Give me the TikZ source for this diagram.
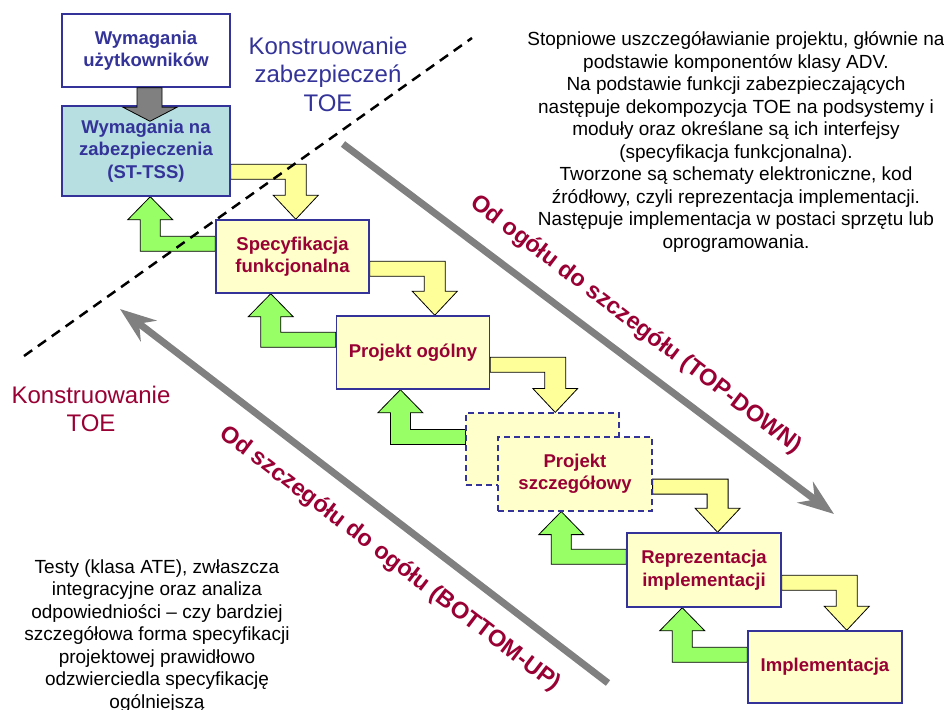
\documentclass[tikz,border=0pt]{standalone}
\usepackage{fontspec}
\setmainfont{Liberation Sans}
\usepackage{tikz}
\usetikzlibrary{arrows.meta, calc, backgrounds}
\definecolor{tblue}{HTML}{333399}
\definecolor{tred}{HTML}{990033}
\definecolor{boxfill}{HTML}{FFFFCC}
\definecolor{cyanfill}{HTML}{B7DEE0}
\definecolor{yellowarr}{HTML}{FFFF99}
\definecolor{greenarr}{HTML}{99FF66}
\definecolor{grayarr}{HTML}{808080}
\tikzset{
  block/.style={rectangle, draw=tblue, line width=1.5pt, fill=boxfill,
                align=center, minimum width=153pt, minimum height=73pt,
                inner sep=2pt, text=tred,
                font=\fontsize{18.5}{22.5}\selectfont\bfseries},
  blockwhite/.style={block, fill=white, text=tblue, minimum width=168pt},
  blockcyan/.style={block, fill=cyanfill, text=tblue, minimum width=168pt,
                    minimum height=90pt},
  blockdash/.style={block, line width=1.2pt, dash pattern=on 6pt off 4pt},
  downarrow/.style={fill=yellowarr, draw=black, line width=0.8pt},
  uparrow/.style={fill=greenarr, draw=black, line width=0.8pt},
  bigarrow/.style={draw=grayarr, line width=7pt,
                   -{Stealth[length=36pt, width=26pt, inset=12pt]}},
  note/.style={align=center, font=\fontsize{19}{22.5}\selectfont},
  phase/.style={align=center, font=\fontsize{24}{28.5}\selectfont},
  slant/.style={text=tred, rotate=-37.3,
                font=\fontsize{23.5}{28}\selectfont\bfseries},
}
% yellow bent arrow: right out of #1, down onto #2
\newcommand{\stepdown}[2]{%
  \filldraw[downarrow] let \p1=(#1.south east), \p2=(#2.north) in
    (\x1,{\y1+32.5pt}) -- ({\x1+75.5pt},{\y1+32.5pt})
    -- ({\x1+75.5pt},{\y2+24pt}) -- ({\x1+87.5pt},{\y2+24pt})
    -- ({\x1+65pt},\y2) -- ({\x1+42.5pt},{\y2+24pt})
    -- ({\x1+54.5pt},{\y2+24pt}) -- ({\x1+54.5pt},{\y1+17.5pt})
    -- (\x1,{\y1+17.5pt}) -- cycle;}
% green bent arrow: left out of #1, up onto #2
\newcommand{\stepup}[2]{%
  \filldraw[uparrow] let \p1=(#1.north west), \p2=(#2.south) in
    (\x1,{\y1-32pt}) -- ({\x1-75pt},{\y1-32pt})
    -- ({\x1-75pt},{\y2-23pt}) -- ({\x1-87.5pt},{\y2-23pt})
    -- ({\x1-65pt},\y2) -- ({\x1-42.5pt},{\y2-23pt})
    -- ({\x1-55pt},{\y2-23pt}) -- ({\x1-55pt},{\y1-17pt})
    -- (\x1,{\y1-17pt}) -- cycle;}

\begin{document}
\begin{tikzpicture}[x=1pt, y=-1pt]
  \useasboundingbox (0,0) rectangle (944,709);

  % stages
  \node[blockwhite] (req) at (146,50.5) {Wymagania\\użytkowników};
  \node[blockcyan] (sec) at (146,151) {Wymagania na\\zabezpieczenia\\(ST-TSS)};
  \node[block] (spec) at (292.5,256.5) {Specyfikacja\\funkcjonalna};
  \node[block] (gen) at (413,352.5) {Projekt ogólny};
  \node[blockdash, minimum height=72pt] (detback) at (542.5,449) {};
  \node[blockdash, minimum width=154pt, minimum height=74pt] (det) at (575,474)
    {Projekt\\szczegółowy};
  \node[block, minimum width=154pt, minimum height=74pt] (repr) at (704,570)
    {Reprezentacja\\implementacji};
  \node[block, minimum width=154pt, minimum height=72pt] (impl) at (825,667)
    {Implementacja};

  % bent arrows between the stages
  \begin{pgfonlayer}{background}
  \stepdown{sec}{spec}
  \stepdown{spec}{gen}
  \stepdown{gen}{detback}
  \stepdown{det}{repr}
  \stepdown{repr}{impl}
  \stepup{spec}{sec}
  \stepup{gen}{spec}
  \stepup{detback}{gen}
  \stepup{repr}{det}
  \stepup{impl}{repr}
  \end{pgfonlayer}

  % grey arrow req -> sec
  \filldraw[fill=grayarr, draw=black, line width=0.8pt]
    let \p1=(req.south), \p2=(sec.north) in
    ({\x1-9pt},\y1) -- ({\x1+16pt},\y1) -- ({\x1+16pt},{\y2-2pt})
    -- ({\x1+31pt},{\y2-2pt}) -- ({\x1+4pt},{\y2-16pt})
    -- ({\x1-23pt},{\y2-2pt}) -- ({\x1-9pt},{\y2-2pt}) -- cycle;

  % separator
  \coordinate (sepA) at (24,356);
  \coordinate (sepB) at (472,38);
  \draw[line width=2.5pt, dash pattern=on 10pt off 7pt] (sepA) -- (sepB);

  % big direction arrows
  \coordinate (tdA) at (343,144);
  \coordinate (tdB) at (834,514);
  \coordinate (buA) at (608,683);
  \coordinate (buB) at (120,309);
  \draw[bigarrow] (tdA) -- (tdB);
  \draw[bigarrow] (buA) -- (buB);
  \node[slant] (tdlbl) at (636,325) {Od ogółu do szczegółu (TOP-DOWN)};
  \node[slant] (bulbl) at (390,559) {Od szczegółu do ogółu (BOTTOM-UP)};

  % labels
  \node[phase, text=tblue] (secphase) at (328,74)
    {Konstruowanie\\zabezpieczeń\\TOE};
  \node[phase, text=tred] (toephase) at (91,409) {Konstruowanie\\TOE};

  \node[note] (topnote) at (736,142)
    {Stopniowe uszczegóławianie projektu, głównie na\\
     podstawie komponentów klasy ADV.\\
     Na podstawie funkcji zabezpieczających\\
     następuje dekompozycja TOE na podsystemy i\\
     moduły oraz określane są ich interfejsy\\
     (specyfikacja funkcjonalna).\\
     Tworzone są schematy elektroniczne, kod\\
     źródłowy, czyli reprezentacja implementacji.\\
     Następuje implementacja w postaci sprzętu lub\\
     oprogramowania.};
  \node[note] (botnote) at (157,636)
    {Testy (klasa ATE), zwłaszcza\\
     integracyjne oraz analiza\\
     odpowiedniości -- czy bardziej\\
     szczegółowa forma specyfikacji\\
     projektowej prawidłowo\\
     odzwierciedla specyfikację\\
     ogólniejszą};
\end{tikzpicture}
\end{document}
